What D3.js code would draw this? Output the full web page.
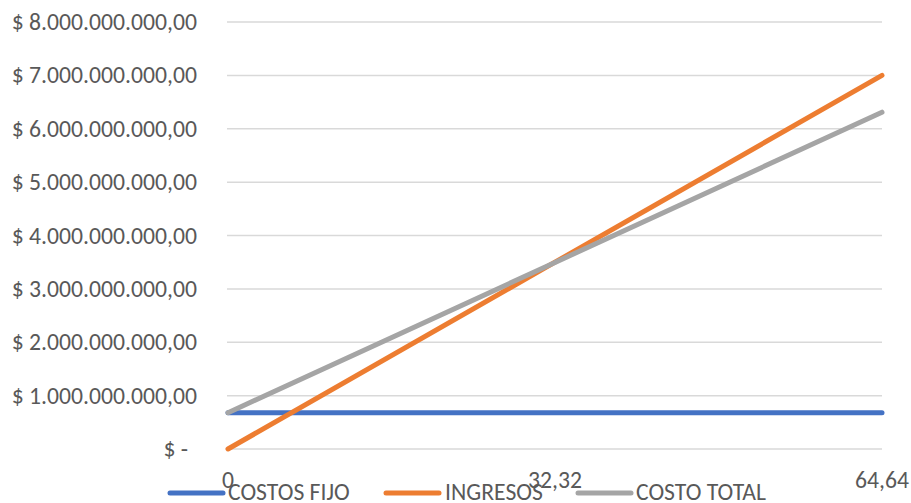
<!DOCTYPE html>
<html>
<head>
<meta charset="utf-8">
<script src="https://cdn.jsdelivr.net/npm/d3@7"></script>
<style>
  html, body { margin: 0; padding: 0; background: #fff; }
  svg { display: block; }
  text { font-family: Calibri, Carlito, "Open Sans", sans-serif; fill: #595959; }
</style>
</head>
<body>
<svg id="chart" width="911" height="503"></svg>
<script>
// Units sold at each point of the break-even chart
const categories = [0, 32.32, 64.64];
const categoryLabels = ["0", "32,32", "64,64"];

// Series values (pesos)
const costosFijo = [680000000, 680000000, 680000000];
const ingresos = [0, 3500000000, 7000000000];
const costoTotal = [680000000, 3495000000, 6310000000];

const seriesNames = ["COSTOS FIJO", "INGRESOS", "COSTO TOTAL"];
const seriesColors = ["#4472C4", "#ED7D31", "#A5A5A5"];

// Y axis ticks
const yTicks = [0, 1e9, 2e9, 3e9, 4e9, 5e9, 6e9, 7e9, 8e9];

const svg = d3.select("#chart");
const plot = { left: 228, right: 882, top: 22, bottom: 449 };
const fontSize = 23.7;
const lineWidth = 5;

const x = d3.scalePoint().domain(categories).range([plot.left, plot.right]);
const y = d3.scaleLinear().domain([0, 8e9]).range([plot.bottom, plot.top]);

const locale = d3.formatLocale({ decimal: ",", thousands: ".", grouping: [3], currency: ["$ ", ""] });
const money = locale.format("$,.2f");
const yLabel = v => v === 0 ? "$ -" : money(v);

// Horizontal gridlines
svg.append("g")
  .selectAll("line")
  .data(yTicks)
  .join("line")
  .attr("x1", plot.left - 1)
  .attr("x2", plot.right)
  .attr("y1", d => y(d))
  .attr("y2", d => y(d))
  .attr("stroke", "#D9D9D9")
  .attr("stroke-width", 1.5);

// Y tick labels
svg.append("g")
  .selectAll("text")
  .data(yTicks)
  .join("text")
  .attr("x", d => d === 0 ? 188 : 197)
  .attr("y", d => y(d))
  .attr("dy", "0.34em")
  .attr("text-anchor", "end")
  .attr("font-size", fontSize)
  .text(yLabel);

// X tick labels
svg.append("g")
  .selectAll("text")
  .data(categories)
  .join("text")
  .attr("x", d => x(d))
  .attr("y", 488)
  .attr("text-anchor", "middle")
  .attr("font-size", fontSize)
  .text((d, i) => categoryLabels[i]);

// Series lines
const series = [costosFijo, ingresos, costoTotal];
const line = d3.line().x((d, i) => x(categories[i])).y(d => y(d));

svg.append("g")
  .selectAll("path")
  .data(series)
  .join("path")
  .attr("d", d => line(d))
  .attr("fill", "none")
  .attr("stroke", (d, i) => seriesColors[i])
  .attr("stroke-width", lineWidth)
  .attr("stroke-linecap", "round")
  .attr("stroke-linejoin", "round");

// Legend
const legendItems = [
  { x1: 170, x2: 223, tx: 228 },
  { x1: 386, x2: 439, tx: 445 },
  { x1: 578, x2: 631, tx: 636 }
];
const lg = svg.append("g");
legendItems.forEach((it, i) => {
  lg.append("line")
    .attr("x1", it.x1).attr("x2", it.x2)
    .attr("y1", 493).attr("y2", 493)
    .attr("stroke", seriesColors[i])
    .attr("stroke-width", lineWidth)
    .attr("stroke-linecap", "round");
  lg.append("text")
    .attr("x", it.tx)
    .attr("y", 500)
    .attr("font-size", fontSize)
    .text(seriesNames[i]);
});
</script>
</body>
</html>
